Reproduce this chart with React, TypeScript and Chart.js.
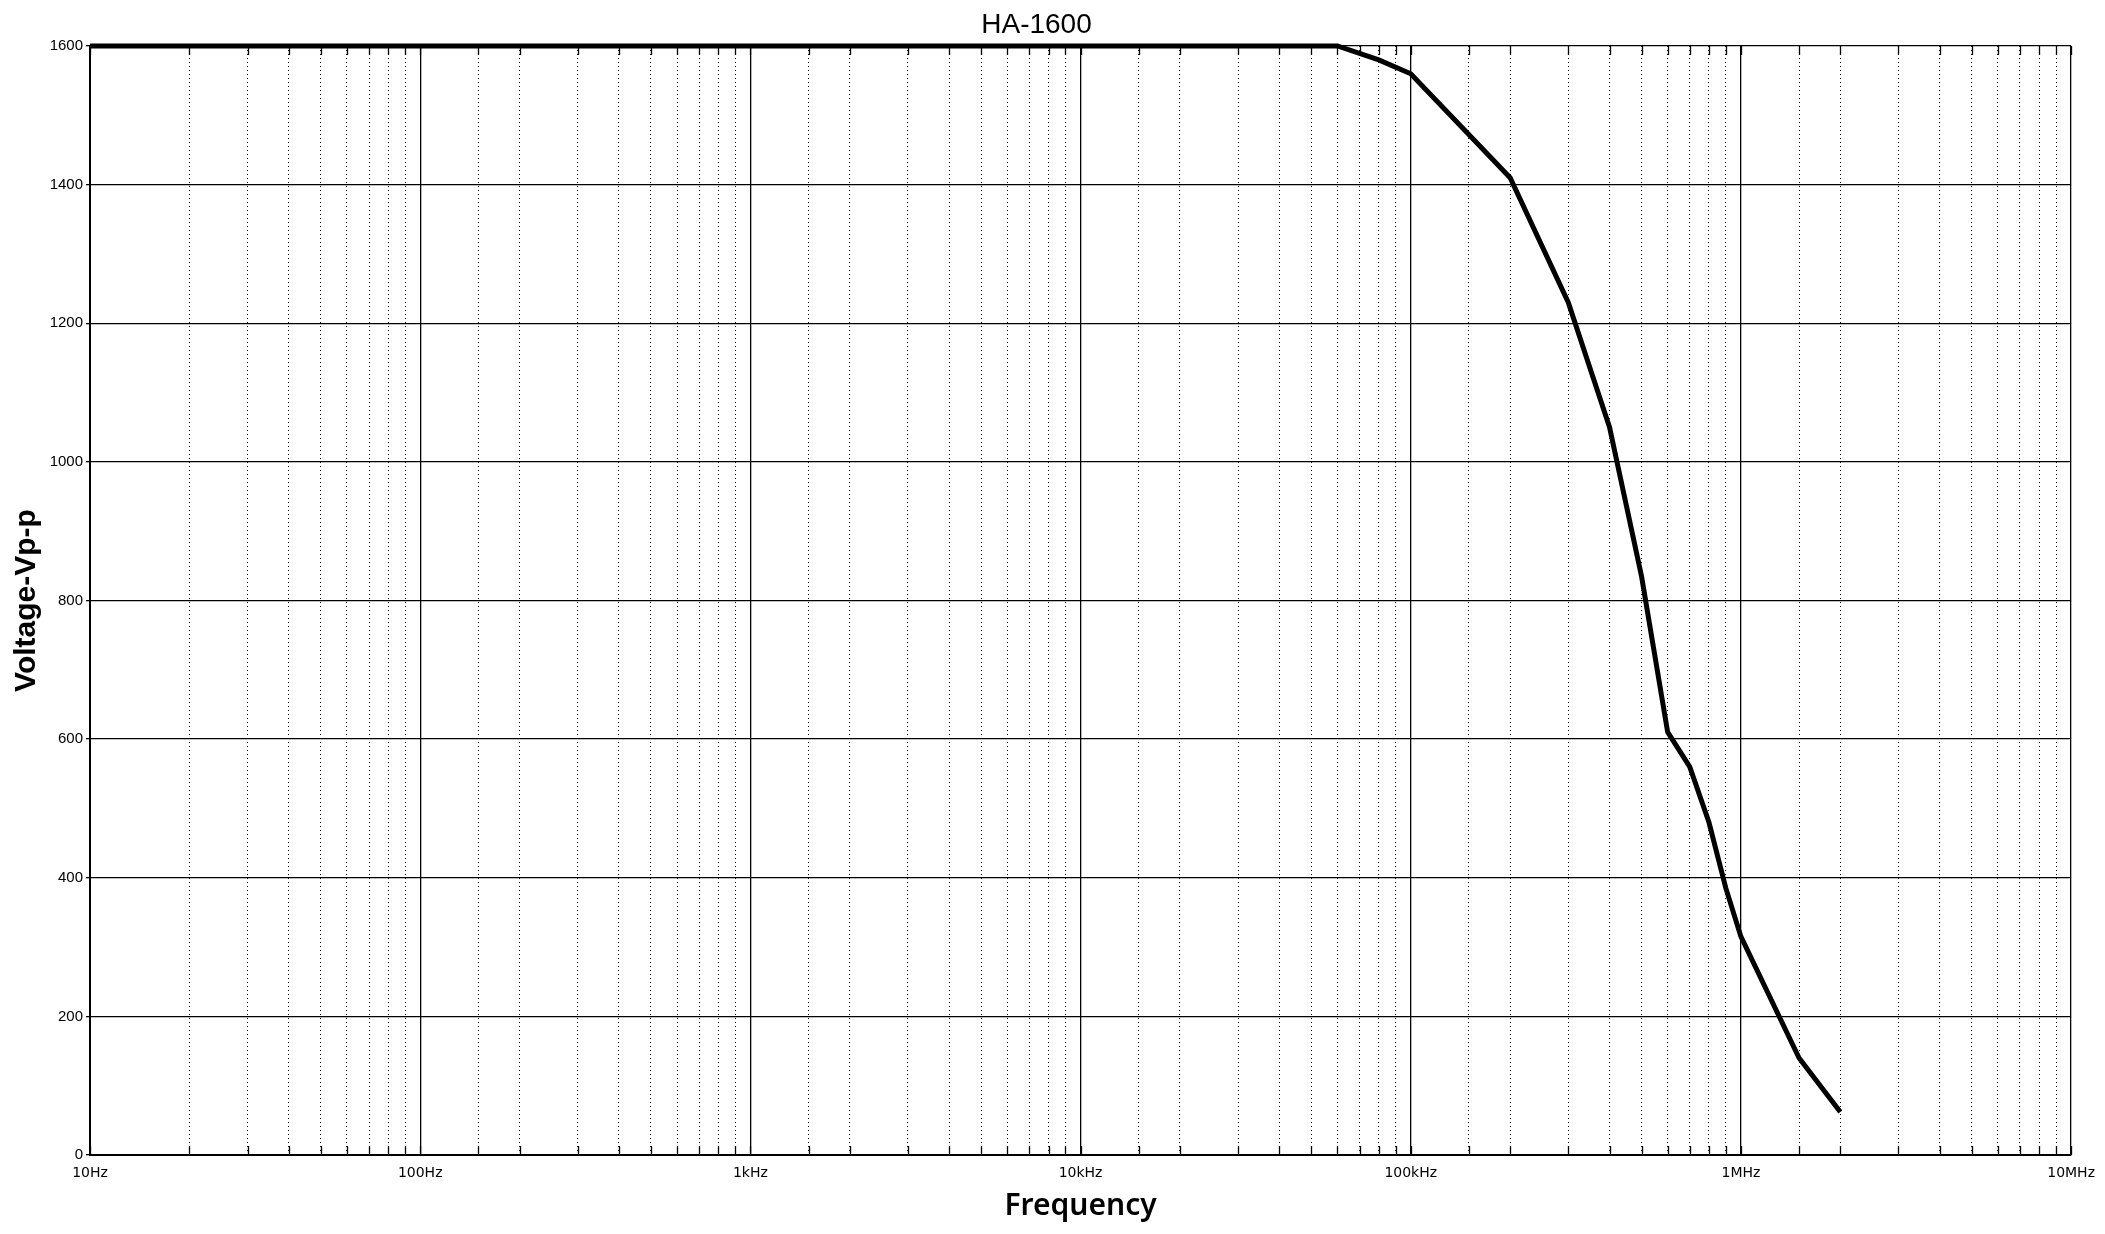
import React, { useEffect, useRef } from "react";
import { Chart, registerables } from "chart.js";

Chart.register(...registerables);

const frequencies = [10, 60000, 80000, 100000, 200000, 300000, 400000, 500000, 600000, 700000, 800000, 900000, 1000000, 1500000, 2000000];
const voltages = [1600, 1600, 1580, 1560, 1410, 1230, 1050, 835, 610, 560, 480, 385, 315, 140, 62];
const majorTickLabels: Record<number, string> = {
  10: "10Hz",
  100: "100Hz",
  1000: "1kHz",
  10000: "10kHz",
  100000: "100kHz",
  1000000: "1MHz",
  10000000: "10MHz",
};
const chartTitle = "HA-1600";
const xTitle = "Frequency";
const yTitle = "Voltage-Vp-p";

const isMajor = (v: number) => {
  const l = Math.log10(v);
  return Math.abs(l - Math.round(l)) < 1e-9;
};

const innerTicks = {
  id: "innerTicks",
  afterDatasetsDraw(chart: any) {
    const x = chart.scales.x;
    const { top, bottom } = chart.chartArea;
    const ctx = chart.ctx;
    ctx.save();
    ctx.strokeStyle = "#000";
    ctx.lineWidth = 1.3;
    ctx.setLineDash([]);
    x.ticks.forEach((t: any) => {
      const px = Math.round(x.getPixelForValue(t.value)) + 0.5;
      ctx.beginPath();
      ctx.moveTo(px, bottom);
      ctx.lineTo(px, bottom - 9);
      ctx.moveTo(px, top);
      ctx.lineTo(px, top + 9);
      ctx.stroke();
    });
    ctx.restore();
  },
};

export default function App() {
  const ref = useRef<HTMLCanvasElement | null>(null);
  useEffect(() => {
    document.body.style.margin = "0";
    const canvas = ref.current!;
    const chart = new Chart(canvas, {
      type: "line",
      data: {
        datasets: [
          {
            data: frequencies.map((f, i) => ({ x: f, y: voltages[i] })),
            borderColor: "#000",
            borderWidth: 5,
            pointRadius: 0,
            tension: 0,
            fill: false,
            clip: 6,
          },
        ],
      },
      options: {
        animation: false,
        responsive: false,
        maintainAspectRatio: false,
        devicePixelRatio: 1,
        layout: { padding: { left: 0, right: 32, top: 0, bottom: 0 } },
        plugins: {
          legend: { display: false },
          tooltip: { enabled: false },
          title: {
            display: true,
            text: chartTitle,
            color: "#000",
            font: { family: "'Liberation Sans', Arial, sans-serif", size: 28, weight: "normal" },
            padding: { top: 8, bottom: 4.4 },
          },
        },
        scales: {
          x: {
            type: "logarithmic",
            min: 10,
            max: 10000000,
            afterFit: (s: any) => {
              s.height = 79;
            },
            grid: {
              color: "#000",
              lineWidth: (c: any) => (c.tick && isMajor(c.tick.value) ? 1.3 : 1),
              drawTicks: false,
              tickLength: 0,
            },
            border: {
              display: true,
              color: "#000",
              width: 2,
              dash: (c: any) => (c.tick && !isMajor(c.tick.value) ? [1, 3] : []),
            },
            ticks: {
              autoSkip: false,
              maxRotation: 0,
              minRotation: 0,
              padding: 10,
              color: "#000",
              font: { family: "'DejaVu Sans', sans-serif", size: 14 },
              callback: (v: any) => {
                const n = Number(v);
                for (const k of Object.keys(majorTickLabels)) {
                  if (Math.abs(Number(k) - n) < 1e-6) return majorTickLabels[Number(k)];
                }
                return "";
              },
            },
            title: {
              display: true,
              text: xTitle,
              color: "#000",
              font: { family: "'Noto Sans', sans-serif", size: 30, weight: "600" },
              padding: { top: 0, bottom: 10 },
            },
          },
          y: {
            min: 0,
            max: 1600,
            afterFit: (s: any) => {
              s.width = 90;
            },
            grid: {
              color: "#000",
              lineWidth: 1.3,
              drawTicks: true,
              tickLength: 4,
            },
            border: { display: true, color: "#000", width: 2 },
            ticks: {
              stepSize: 200,
              padding: 3,
              color: "#000",
              font: { family: "'Liberation Sans', Arial, sans-serif", size: 15 },
              callback: (v: any) => String(v),
            },
            title: {
              display: true,
              text: yTitle,
              color: "#000",
              font: { family: "'Liberation Sans', Arial, sans-serif", size: 30, weight: "bold" },
              padding: { top: 9, bottom: 0 },
            },
          },
        },
      },
      plugins: [innerTicks],
    } as any);
    return () => chart.destroy();
  }, []);
  return (
    <div style={{ width: 2105, height: 1234 }}>
      <canvas ref={ref} width={2105} height={1234} style={{ display: "block", width: 2105, height: 1234 }} />
    </div>
  );
}
